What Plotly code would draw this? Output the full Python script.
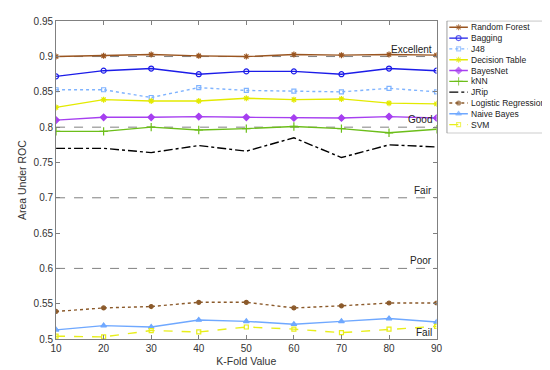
import plotly.graph_objects as go

k_fold = [10, 20, 30, 40, 50, 60, 70, 80, 90]

random_forest = [0.900, 0.901, 0.903, 0.901, 0.900, 0.903, 0.902, 0.903, 0.902]
bagging = [0.872, 0.880, 0.883, 0.875, 0.879, 0.879, 0.875, 0.883, 0.880]
j48 = [0.853, 0.853, 0.842, 0.856, 0.852, 0.851, 0.850, 0.855, 0.850]
decision_table = [0.828, 0.839, 0.837, 0.837, 0.841, 0.839, 0.840, 0.834, 0.833]
bayes_net = [0.810, 0.814, 0.814, 0.815, 0.814, 0.813, 0.813, 0.815, 0.813]
knn = [0.794, 0.794, 0.800, 0.796, 0.798, 0.801, 0.798, 0.792, 0.797]
jrip = [0.770, 0.770, 0.764, 0.774, 0.766, 0.785, 0.757, 0.775, 0.772]
logistic_regression = [0.539, 0.544, 0.546, 0.552, 0.552, 0.544, 0.547, 0.551, 0.551]
naive_bayes = [0.513, 0.519, 0.517, 0.527, 0.525, 0.521, 0.525, 0.529, 0.524]
svm = [0.504, 0.503, 0.512, 0.510, 0.517, 0.514, 0.509, 0.514, 0.518]

y_ticks = [0.5, 0.55, 0.6, 0.65, 0.7, 0.75, 0.8, 0.85, 0.9, 0.95]
ref_levels = [0.9, 0.8, 0.7, 0.6]
ref_labels = ["Excellent", "Good", "Fair", "Poor"]
fail_label = "Fail"
fail_level = 0.5092

series = [
    ("Random Forest", random_forest, "#9a5520", "solid", "asterisk-open", 5),
    ("Bagging", bagging, "#1c1ce8", "solid", "circle-open", 5),
    ("J48", j48, "#7fb3ff", "dot", "square-open", 4),
    ("Decision Table", decision_table, "#e3ea00", "solid", "asterisk-open", 5),
    ("BayesNet", bayes_net, "#a63ff0", "solid", "diamond", 5),
    ("kNN", knn, "#6cbe1a", "solid", "cross-thin-open", 6),
    ("JRip", jrip, "#000000", "dashdot", None, 0),
    ("Logistic Regression", logistic_regression, "#8b5a2b", "dot", "circle", 4),
    ("Naive Bayes", naive_bayes, "#6fa8ff", "solid", "triangle-up", 5),
    ("SVM", svm, "#e8ee1a", "dash", "square-open", 4),
]

W, H = 550, 370
px_l, px_r, px_t, px_b = 43, 432, 8.5, 336
leg_l, leg_r, leg_t, leg_b = 442, 548, 8, 124

FONT = "Liberation Sans, Arial"

fig = go.Figure()

for name, vals, color, dash, sym, size in series:
    mk = dict(color=color, size=size, symbol=sym, line=dict(color=color, width=1.2)) if sym else dict(size=0)
    fig.add_trace(go.Scatter(
        x=k_fold, y=vals, name=name, mode="lines+markers" if sym else "lines",
        line=dict(color=color, width=1.4, dash=dash), marker=mk,
        showlegend=False, xaxis="x", yaxis="y",
    ))

# custom MATLAB-like legend on an auxiliary pixel-scaled axis
row0, step = 14.7, 11.15
for i, (name, vals, color, dash, sym, size) in enumerate(series):
    yy = row0 + step * i
    mk = dict(color=color, size=[0, size, 0], symbol=sym, line=dict(color=color, width=1.1)) if sym else dict(size=0)
    fig.add_trace(go.Scatter(
        x=[445, 454.5, 464], y=[yy, yy, yy], mode="lines+markers" if sym else "lines",
        line=dict(color=color, width=1.4, dash=dash), marker=mk,
        showlegend=False, xaxis="x2", yaxis="y2", hoverinfo="skip",
    ))
    fig.add_annotation(x=465.5, y=yy, xref="x2", yref="y2", text=name, showarrow=False,
                       xanchor="left", yanchor="middle",
                       font=dict(family=FONT, size=8.5, color="#222"))

fig.add_shape(type="rect", xref="x2", yref="y2", x0=leg_l + 0.5, x1=leg_r - 0.5, y0=leg_t, y1=leg_b,
              line=dict(color="#808080", width=1), fillcolor="rgba(0,0,0,0)")

for lvl, lab in zip(ref_levels, ref_labels):
    fig.add_shape(type="line", xref="x domain", yref="y", x0=0, x1=1, y0=lvl, y1=lvl,
                  line=dict(color="#808080", width=1, dash="dash"), layer="below")
    fig.add_annotation(x=89.5, y=lvl + 0.0105, xref="x", yref="y", text=lab, showarrow=False,
                       xanchor="right", yanchor="middle",
                       font=dict(family=FONT, size=10, color="#222"))
fig.add_annotation(x=89.5, y=fail_level, xref="x", yref="y", text=fail_label, showarrow=False,
                   xanchor="right", yanchor="middle",
                   font=dict(family=FONT, size=10, color="#222"))

axis_common = dict(showline=True, linecolor="#808080", linewidth=1, mirror="ticks",
                   ticks="inside", ticklen=4, tickcolor="#808080", showgrid=False, zeroline=False,
                   tickfont=dict(family=FONT, size=10, color="#333"))

fig.update_layout(
    width=W, height=H,
    margin=dict(l=0, r=0, t=0, b=0),
    paper_bgcolor="white", plot_bgcolor="white",
    showlegend=False,
    xaxis=dict(domain=[px_l / W, px_r / W], range=[10, 90], tickvals=k_fold,
               title=dict(text="K-Fold Value", font=dict(family=FONT, size=10.5, color="#333"), standoff=4),
               anchor="y", **axis_common),
    yaxis=dict(domain=[1 - px_b / H, 1 - px_t / H], range=[0.5, 0.95], tickvals=y_ticks,
               ticktext=[f"{v:g}" for v in y_ticks],
               title=dict(text="Area Under ROC", font=dict(family=FONT, size=10.5, color="#333"), standoff=4),
               anchor="x", **axis_common),
    xaxis2=dict(domain=[leg_l / W, leg_r / W], range=[leg_l, leg_r], visible=False, anchor="y2", fixedrange=True),
    yaxis2=dict(domain=[1 - leg_b / H, 1 - leg_t / H], range=[leg_b, leg_t], visible=False, anchor="x2", fixedrange=True),
)

fig.write_html("out.html")
